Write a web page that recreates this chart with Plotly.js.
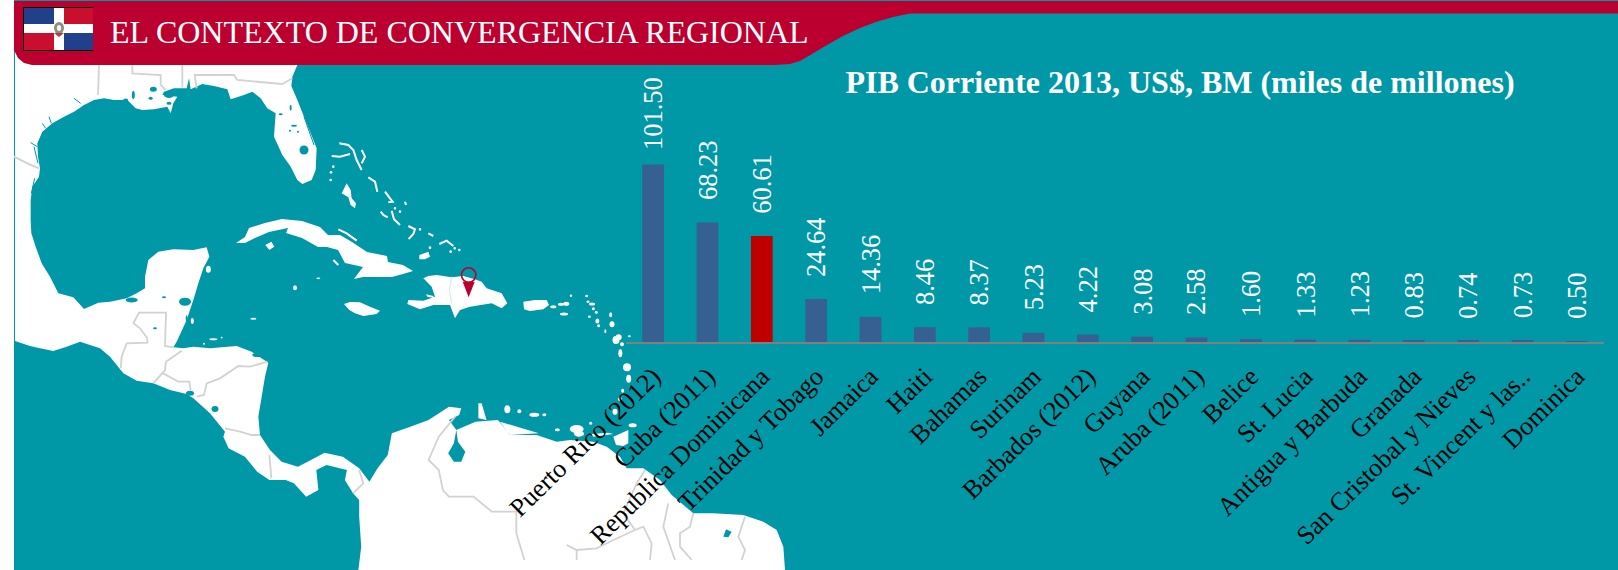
<!DOCTYPE html>
<html><head><meta charset="utf-8">
<script src="https://cdn.plot.ly/plotly-3.0.1.min.js"></script>
<style>html,body{margin:0;padding:0;background:#fff;overflow:hidden}#c{width:1618px;height:570px}</style>
</head><body><div id="c"></div>
<script>
// ---- chart data ----
const categories = ["Puerto Rico (2012)","Cuba (2011)","Republica Dominicana","Trinidad y Tobago","Jamaica","Haiti","Bahamas","Surinam","Barbados (2012)","Guyana","Aruba (2011)","Belice","St. Lucia","Antigua y Barbuda","Granada","San Cristobal y Nieves","St. Vincent y las..","Dominica"];
const values = [101.50,68.23,60.61,24.64,14.36,8.46,8.37,5.23,4.22,3.08,2.58,1.60,1.33,1.23,0.83,0.74,0.73,0.50];
const highlighted = "Republica Dominicana";
const chartTitle = "PIB Corriente 2013, US$, BM (miles de millones)";
const headerTitle = "EL CONTEXTO DE CONVERGENCIA REGIONAL";

// ---- colours ----
const TEAL="#0097a7", RED="#bb0030", BAR="#376092", BARHI="#c00000", AXIS="#808080", BORDER="#d2d2d2";
const W=1618,H=570;
const SERIF="Liberation Serif, Times New Roman, serif";

// ---- decorative backdrop helpers (pixel space -> paper) ----
const nx=x=>(x/W).toFixed(5), ny=y=>(1-y/H).toFixed(5);
const frame=(ox,oy,sx,sy)=>pts=>pts.map(([x,y])=>[ox+x/sx,oy+y/sy]);
const Z2=frame(0,50,2.45,3), Z5=frame(480,340,3,3), Z7=frame(500,280,3,3), Z8=frame(320,140,3,3), PX=frame(0,0,1,1), G=frame(14,60,3,3), C=frame(30,240,3,3);
const d=(pts,close)=>pts.map((p,i)=>(i?"L":"M")+nx(p[0])+","+ny(p[1])).join("")+(close?"Z":"");
const shapes=[];
const poly=(pts,fill)=>shapes.push({type:"path",xref:"paper",yref:"paper",layer:"below",path:d(pts,true),fillcolor:fill,line:{width:0}});
const line=(pts,color,w)=>shapes.push({type:"path",xref:"paper",yref:"paper",layer:"below",path:d(pts,false),fillcolor:"rgba(0,0,0,0)",line:{color:color,width:w}});
const rect=(x0,y0,x1,y1,fill)=>shapes.push({type:"rect",xref:"paper",yref:"paper",layer:"below",x0:x0/W,x1:x1/W,y0:1-y1/H,y1:1-y0/H,fillcolor:fill,line:{width:0}});
const oval=(cx,cy,rx,ry,fill,lc,lw)=>shapes.push({type:"circle",xref:"paper",yref:"paper",layer:"below",x0:(cx-rx)/W,x1:(cx+rx)/W,y0:1-(cy+ry)/H,y1:1-(cy-ry)/H,fillcolor:fill,line:lc?{color:lc,width:lw}:{width:0}});
const ovals=(fr,list,fill)=>list.forEach(a=>{const q=fr([[a[0],a[1]]])[0];oval(q[0],q[1],a[2],a[3],fill);});

// sea
rect(14,0,W,H,TEAL);

// mainland
const coast=[].concat(
 PX([[15,40],[300,40]]),
 G([[850,15],[835,50],[832,78],[850,120],[870,170],[890,220],[908,265],[905,330],[893,360],[865,372],[850,360],[830,320],[805,285],[780,230],[785,160],[760,145],[740,115],[715,95],[690,105],[650,118],[640,88],[600,78],[565,72],[530,88],[525,55],[518,85],[480,85],[450,95],[445,105],[490,110],[478,130],[470,160],[460,140],[420,148],[385,150],[365,145],[340,120],[300,120],[270,115],[240,120],[210,135],[180,155],[150,170],[115,190],[85,215],[70,250],[72,290],[78,325],[75,350],[55,380],[50,420],[50,480],[52,520],[65,560]]),
 C([[35,70],[60,110],[85,160],[130,172],[162,207],[205,188],[240,185],[290,175],[320,160],[345,145],[345,110],[355,60],[385,35],[430,28],[490,30],[530,22],[538,50],[520,85],[505,130],[490,180],[470,240],[440,305],[430,322],[460,325],[490,320],[540,325],[620,318],[665,335],[715,368],[705,410],[695,470],[685,530],[690,585],[720,630]]),
 Z2([[690,1235],[730,1250],[770,1225],[795,1208],[840,1220],[880,1255],[905,1295],[925,1255],[950,1215],[960,1150],[1005,1130],[1050,1110],[1100,1070],[1130,1075],[1125,1095],[1100,1110],[1118,1140],[1165,1115],[1220,1110],[1250,1155],[1320,1150]]),
 Z5([[60,245],[90,285],[170,285],[230,305],[270,300],[340,305],[380,320],[420,350],[440,385],[490,385],[540,420],[575,465],[640,520],[700,520],[790,525],[850,545],[890,570],[910,620],[915,690]]),
 Z2([[878,1560],[885,1490],[880,1400],[880,1350],[865,1330],[845,1290],[850,1260],[800,1245],[775,1260],[780,1320],[750,1340],[720,1300],[700,1290],[660,1290],[630,1265],[600,1220],[560,1195]]),
 C([[580,590],[585,575],[540,520],[490,475],[470,462],[420,450],[370,430],[320,422],[280,400],[240,350],[210,325],[150,305],[110,320],[70,333],[30,325],[0,318]]),
 PX([[15,341]])
);
poly(coast,"#ffffff");

// inland water
ovals(G,[[418,88,3.5,2.5],[465,105,5,3],[358,105,1.5,4],[870,270,4.5,4.5],[830,143,1,3],[800,163,2,1],[840,197,3,1],[828,212,1,1],[852,215,1,1],[410,115,2,1.5],[335,120,2.5,1.5],[465,130,2.5,1.5]],TEAL);
[[[180,115],[200,130]],[[105,170],[112,190]],[[85,190],[95,205]],[[50,248],[70,260]],[[60,260],[72,310]],[[870,170],[900,255]],[[62,355],[52,400]]].forEach(p=>line(G(p),TEAL,1));
ovals(C,[[305,180,6,2.5],[465,185,6,4],[375,265,2,1],[402,172,2,1],[555,507,3.5,3],[682,345,5,2],[480,460,4,2.5],[470,235,1,3]],TEAL);
poly(Z2([[1118,1140],[1112,1180],[1098,1210],[1112,1235],[1130,1235],[1140,1205],[1122,1175]]),TEAL);
poly(Z5([[730,590],[738,568],[755,575],[745,592]]),TEAL);

// borders
[
 [[255,15],[252,105]],
 [[355,15],[355,40],[440,45],[440,75],[455,90]],
 [[505,15],[505,82]],
 [[548,85],[542,45],[660,45],[670,60],[805,72],[835,55]],
 [[0,290],[40,310],[75,325]]
].forEach(p=>line(G(p),BORDER,1.8));
[
 [[272,385],[275,350],[290,310],[352,308],[352,295],[330,265],[310,250],[327,218],[408,218],[405,318],[430,322]],
 [[455,332],[408,365],[405,390],[370,430]],
 [[395,398],[445,425],[478,425],[482,450]],
 [[500,470],[522,465],[530,430],[570,415],[625,378],[660,380],[712,365]],
 [[585,565],[630,575],[665,585],[690,585]]
].forEach(p=>line(C(p),BORDER,1.8));
[
 [[660,1215],[665,1285]],
 [[880,1260],[890,1300],[865,1330]],
 [[1115,1100],[1075,1160],[1050,1230],[1075,1260],[1085,1320],[1100,1340],[1160,1340],[1205,1385],[1265,1385],[1265,1450],[1285,1530]]
].forEach(p=>line(Z2(p),BORDER,1.8));
[
 [[565,490],[550,560],[585,660]],
 [[640,520],[630,560],[600,580],[600,620],[635,660]],
 [[795,530],[775,590],[795,630],[785,660]],
 [[260,615],[290,630],[350,625],[400,600],[465,570],[490,560],[515,610],[510,660]],
 [[290,630],[290,660]],
 [[495,390],[470,430],[430,520],[465,570]]
].forEach(p=>line(Z5(p),BORDER,1.8));

// Greater Antilles
poly(PX([[236,243],[245,237],[249,228],[265,223],[282,219],[302,221],[320,227],[328,235],[340,235],[352,242],[367,252],[387,256],[388,262],[403,265],[413,271],[403,274],[392,277],[363,277],[354,279],[363,267],[345,263],[338,250],[327,247],[318,247],[302,238],[286,233],[288,228],[269,232],[255,238],[245,243]]),"#fff");
poly(Z2([[650,585],[665,575],[672,590],[660,600]]),"#fff");
poly(Z8([[72,492],[90,486],[120,487],[150,500],[180,512],[170,522],[130,528],[105,520],[88,510]]),"#fff");
poly(Z8([[310,415],[325,408],[350,405],[395,412],[430,408],[465,418],[485,425],[500,445],[545,460],[562,490],[545,505],[515,490],[450,500],[420,510],[405,535],[390,495],[340,495],[300,508],[262,492],[265,480],[310,482],[345,470],[335,440]]),"#fff");
poly(Z8([[318,463],[340,468],[342,474],[322,470]]),"#fff");
poly(Z7([[70,65],[105,60],[140,60],[147,75],[130,88],[90,93],[72,88]]),"#fff");
line(Z8([[395,410],[388,450],[395,490]]),"#cdeaee",1);

// Bahamas
[
 [[35,48],[60,50],[90,42]],
 [[58,10],[85,15],[100,30],[110,60],[125,90]],
 [[125,30],[135,50],[125,70]],
 [[145,112],[165,125],[172,155]],
 [[195,155],[210,175],[218,185],[205,187]],
 [[182,215],[190,225],[203,232]],
 [[215,212],[222,238],[240,255]],
 [[265,258],[285,268],[280,282],[266,297]],
 [[325,280],[340,288]],
 [[358,312],[380,302],[400,318]],
 [[255,185],[258,195]],
 [[55,268],[80,280],[110,302]],
 [[40,360],[55,375]]
].forEach(p=>line(Z8(p),"#fff",2));
poly(Z8([[80,130],[92,150],[95,175],[108,190],[105,205],[92,195],[85,172],[65,160]]),"#fff");
poly(Z8([[298,345],[325,335],[330,350],[315,358],[298,358]]),"#fff");
ovals(Z8,[[40,80,1.3,1.3],[33,97,1.3,1.3],[32,120,1.3,1.3],[225,205,1.3,1.3],[240,215,1.3,1.3],[300,268,1.3,1.3],[330,323,1.3,1.3],[404,325,1.3,1.3],[418,330,1.3,1.3],[392,335,1.3,1.3]],"#fff");

// Lesser Antilles and southern islets
ovals(Z7,[[160,80,3,1.5],[183,73,3,1.5],[199,71,3,2],[192,102,4,1.5],[213,47,1.2,1.2],[260,48,1.5,1.2],[264,65,1.5,1.2],[276,72,3,1.5],[280,86,1.5,1.5],[289,97,1.5,1.5],[268,110,1.5,1.2],[292,123,2,2.5],[296,137,1.5,1.5],[332,104,1.5,2.5],[336,133,2.5,3],[316,154,1,2],[348,180,3.5,4],[356,172,3,3],[366,193,2,2],[388,169,1.5,1],[361,220,2,4],[381,262,4,4],[386,296,2.5,4],[368,332,1.5,2],[360,358,2,2],[345,395,2.5,3],[22,388,3,4],[58,394,2,2],[103,404,5,2],[133,404,2,1.5],[172,449,2.5,1.5],[230,447,7,4],[237,461,5,3],[272,430,1.5,1.5],[398,436,4,2]],"#fff");
ovals(C,[[535,88,2.5,3.5],[495,122,2.5,1.5],[487,243,1.5,3],[795,143,2,2.5],[865,115,2,0.8],[670,236,3,1],[550,298,4,1],[522,311,1,1],[575,293,1,0.8]],"#fff");
poly(Z5([[400,290],[445,270],[445,310],[430,318],[408,315]]),"#fff");
poly(Z5([[335,282],[385,278],[400,282],[340,290]]),"#fff");
poly(Z2([[1172,1060],[1180,1060],[1192,1110],[1172,1105]]),"#fff");

// location pin
poly(Z8([[428,425],[464,425],[446,472]]),RED);
oval(...Z8([[446,405]])[0],7.2,7.2,"rgba(0,0,0,0)",RED,1.6);

// header band
poly(PX([[14,1],[W,1],[W,13.5],[960,13.5],[910,13.5],[893,17],[876,22],[860,28],[843,36],[827,45],[812,54],[800,61],[790,64],[775,65],[32,65],[24,63],[18,58],[14,50]]),RED);

// flag
rect(23,7,93,51,"#000");
rect(24,8,93,50,"#fff");
rect(24,8,54,24,"#20408a");
rect(64,8,93,24,"#c8102e");
rect(24,33,54,50,"#c8102e");
rect(64,33,93,50,"#20408a");
oval(59,28,5,6,"#8c8f7a");
oval(59,28,2.2,3,"#f3f3f3");
poly(PX([[54,33],[64,33],[59,37]]),"#b23a4a");

// ---- chart ----
const BASE=342, TOP=100, PXU=1.75;
const trace={type:"bar",x:categories,y:values,width:0.4,
  marker:{color:categories.map(c=>c===highlighted?BARHI:BAR)},hoverinfo:"x+y"};
const layout={
  width:W,height:H,showlegend:false,bargap:0.6,
  paper_bgcolor:"#fff",plot_bgcolor:"rgba(0,0,0,0)",
  margin:{l:0,r:0,t:0,b:0,pad:0},
  font:{family:SERIF},
  title:{text:chartTitle,x:1180/W,xanchor:"center",y:1-82/H,yanchor:"middle",font:{family:SERIF,size:32,color:"#fff",weight:700}},
  xaxis:{domain:[626/W,1604/W],type:"category",tickangle:-44.5,tickfont:{family:SERIF,size:26,color:"#000"},ticklabelstandoff:7,
    ticks:"",ticklen:0,showline:true,linecolor:AXIS,linewidth:2,showgrid:false,zeroline:false,automargin:false},
  yaxis:{domain:[1-BASE/H,1-TOP/H],range:[0,(BASE-TOP)/PXU],visible:false,showgrid:false,zeroline:false},
  shapes:shapes,
  annotations:[
   ...values.map((v,i)=>({x:categories[i],y:v,xref:"x",yref:"y",text:v.toFixed(2),textangle:-90,showarrow:false,
      xanchor:"center",yanchor:"bottom",yshift:i===0?12:20,font:{family:SERIF,size:26.5,color:"#fff"}})),
   {xref:"paper",yref:"paper",x:108/W,y:1-32/H,xanchor:"left",yanchor:"middle",showarrow:false,text:headerTitle,
      font:{family:SERIF,size:32,color:"#fff"}}
  ]
};
Plotly.newPlot("c",[trace],layout,{displayModeBar:false,responsive:false});
</script></body></html>
